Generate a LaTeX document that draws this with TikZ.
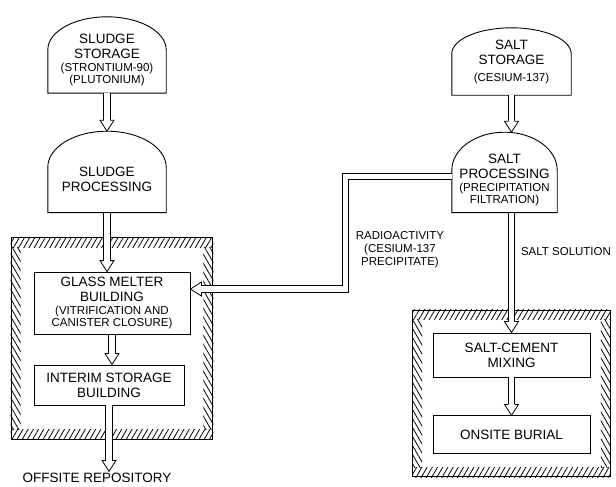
\documentclass[tikz,border=0pt]{standalone}
\usepackage{fontspec}
\setmainfont{Liberation Sans}
\usetikzlibrary{positioning,calc,fit,patterns.meta}
\newcommand\titletxt{\fontsize{13.5}{15}\selectfont}
\newcommand\subtxt{\fontsize{11.5}{13}\selectfont}
\tikzset{
  unit/.style={draw, line width=.9pt, align=center, font=\titletxt, inner sep=2pt},
  dome/.style={align=center, font=\titletxt, inner sep=2pt},
  frame/.style={draw, line width=1pt, inner sep=0pt},
  pipe/.style={double, double distance=5.6pt, line width=.8pt},
  hatchA/.style={pattern={Lines[angle=60,distance=4.5pt,line width=.8pt]}},
  hatchB/.style={pattern={Lines[angle=120,distance=4.5pt,line width=.8pt]}},
  head/.pic={\filldraw[fill=white, line width=.8pt] (-3.2,11) -- (-7,11) -- (0,0) -- (7,11) -- (3.2,11);}
}

\begin{document}
\begin{tikzpicture}[x=1pt, y=1pt]
\useasboundingbox (0,0) rectangle (616,-487);

% sludge side (dome nodes hold the lower, straight part; the cap is added below)
\node[dome, minimum width=118pt, minimum height=66pt] (sludgestore) at (107,-60)
  {SLUDGE\\STORAGE\\[-2pt]{\subtxt (STRONTIUM-90)}\\[-3pt]{\subtxt (PLUTONIUM)}};
\node[dome, minimum width=118pt, minimum height=66pt, below=53pt of sludgestore] (sludgeproc)
  {SLUDGE\\PROCESSING};
\node[unit, minimum width=156pt, minimum height=62pt, below=59pt of sludgeproc, xshift=5pt] (glass)
  {GLASS MELTER\\BUILDING\\[-2pt]{\subtxt (VITRIFICATION AND}\\[-3pt]{\subtxt CANISTER CLOSURE)}};
\node[unit, minimum width=150pt, minimum height=40pt, below=30pt of glass, xshift=-3pt] (interim)
  {INTERIM STORAGE\\BUILDING};
\node[font=\titletxt, inner sep=1pt, below=66pt of interim, xshift=-12pt] (offsite) {OFFSITE REPOSITORY};

% salt side
\node[dome, minimum width=119pt, minimum height=67pt] (saltstore) at (511.5,-61.5)
  {SALT\\STORAGE\\[2pt]{\subtxt (CESIUM-137)}};
\node[dome, minimum width=105pt, minimum height=64pt, below=53pt of saltstore, xshift=-7pt] (saltproc)
  {SALT\\PROCESSING\\[-2pt]{\subtxt (PRECIPITATION}\\[-3pt]{\subtxt FILTRATION)}};
\node[unit, minimum width=157pt, minimum height=44pt] (saltmix) at (511.5,-355)
  {SALT-CEMENT\\MIXING};
\node[unit, minimum width=157pt, minimum height=38pt, below=38pt of saltmix] (burial)
  {ONSITE BURIAL};

\node[font=\subtxt, align=center] (radio) at (400,-250) {RADIOACTIVITY\\(CESIUM-137\\PRECIPITATE)};
\node[font=\subtxt] (solution) at (566,-252) {SALT SOLUTION};

% domes: node / extra height on top / arc height
\foreach \d/\t/\r in {sludgestore/10/33,sludgeproc/15/36,saltstore/0/26,saltproc/16/38}
  \draw[line width=.9pt] let \p1=(\d.south west), \p2=(\d.north east) in
    (\p1) -- (\x1,{\y2+\t pt-\r pt}) arc[start angle=180, end angle=0, x radius={(\x2-\x1)/2}, y radius=\r pt]
    -- (\x2,\y1) -- cycle;

% shielded buildings
\node[frame, fit=(glass)(interim), inner xsep=22.5pt, inner ysep=34pt] (leftframe) {};
\node[frame, fit=(saltmix)(burial), inner xsep=20pt, inner ysep=22.5pt] (rightframe) {};
\foreach \f in {leftframe,rightframe} {
  \fill[hatchA] (\f.north west) rectangle ([yshift=-10pt]\f.north east);
  \fill[hatchA] (\f.south west) rectangle ([yshift=10pt]\f.south east);
  \fill[hatchB] ([yshift=-10pt]\f.north west) rectangle ([xshift=10pt,yshift=10pt]\f.south west);
  \fill[hatchB] ([xshift=-10pt,yshift=-10pt]\f.north east) rectangle ([yshift=10pt]\f.south east);
}

% flows
\draw[pipe] (sludgestore.south) -- ([yshift=26pt]sludgeproc.north);
\pic at ([yshift=15pt]sludgeproc.north) {head};
\draw[pipe] (sludgeproc.south) -- ([yshift=11pt]sludgeproc.south |- glass.north);
\pic at (sludgeproc.south |- glass.north) {head};
\draw[pipe] (glass.south) -- ([yshift=11pt]glass.south |- interim.north);
\pic at (glass.south |- interim.north) {head};
\draw[pipe] (interim.south) -- ([yshift=11pt]interim.south |- offsite.north);
\pic at (interim.south |- offsite.north) {head};

\draw[pipe] (saltstore.south) -- ([yshift=27pt]saltstore.south |- saltproc.north);
\pic at ([yshift=16pt]saltstore.south |- saltproc.north) {head};
\draw[pipe] (saltmix.north |- saltproc.south) -- ([yshift=11pt]saltmix.north);
\pic at (saltmix.north) {head};
\draw[pipe] (saltmix.south) -- ([yshift=11pt]burial.north);
\pic at (burial.north) {head};

\coordinate (elbow) at ([xshift=155pt,yshift=14pt]glass.east);
\draw[pipe] ([yshift=4pt]saltproc.west) -| (elbow) -- ([xshift=11pt,yshift=14pt]glass.east);
\pic[rotate=-90] at ([yshift=14pt]glass.east) {head};
\end{tikzpicture}
\end{document}
